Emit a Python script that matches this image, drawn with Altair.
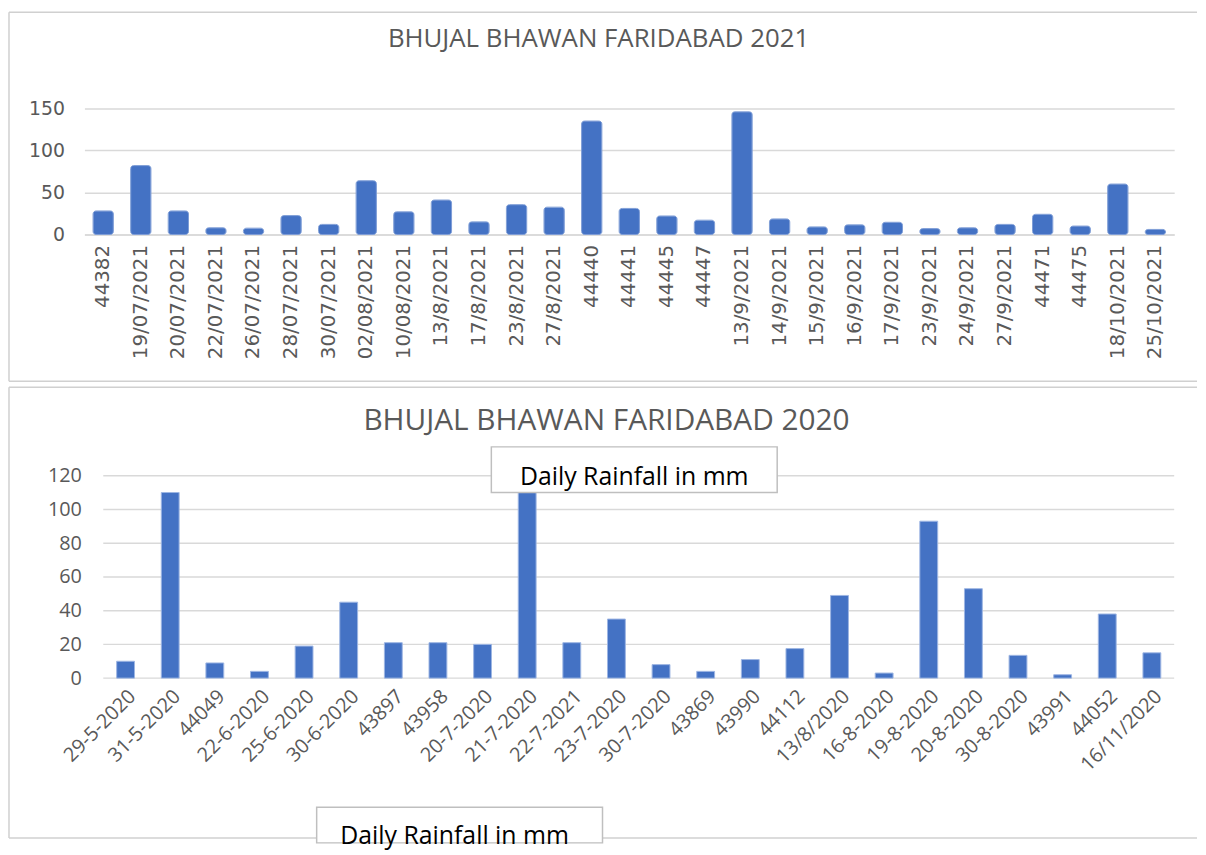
import altair as alt
import pandas as pd

# ---------------- data ----------------
labels_2021 = ["44382", "19/07/2021", "20/07/2021", "22/07/2021", "26/07/2021", "28/07/2021",
               "30/07/2021", "02/08/2021", "10/08/2021", "13/8/2021", "17/8/2021", "23/8/2021",
               "27/8/2021", "44440", "44441", "44445", "44447", "13/9/2021", "14/9/2021",
               "15/9/2021", "16/9/2021", "17/9/2021", "23/9/2021", "24/9/2021", "27/9/2021",
               "44471", "44475", "18/10/2021", "25/10/2021"]
rain_2021 = [28, 82, 28, 8, 7.5, 22.5, 12, 64, 27, 41, 15, 35.5, 32.5, 135, 31, 22, 17, 146,
             18.5, 9, 11.5, 14.5, 7, 8, 12, 24, 10, 60, 6]
ticks_2021 = [0, 50, 100, 150]

labels_2020 = ["29-5-2020", "31-5-2020", "44049", "22-6-2020", "25-6-2020", "30-6-2020",
               "43897", "43958", "20-7-2020", "21-7-2020", "22-7-2021", "23-7-2020",
               "30-7-2020", "43869", "43990", "44112", "13/8/2020", "16-8-2020", "19-8-2020",
               "20-8-2020", "30-8-2020", "43991", "44052", "16/11/2020"]
rain_2020 = [10, 110, 9, 4, 19, 45, 21, 21, 20, 112, 21, 35, 8, 4, 11, 17.5, 49, 3, 93, 53,
             13.5, 2, 38, 15]
ticks_2020 = [0, 20, 40, 60, 80, 100, 120]

title_2021 = "BHUJAL BHAWAN FARIDABAD 2021"
title_2020 = "BHUJAL BHAWAN FARIDABAD 2020"
legend_text = "Daily Rainfall in mm"

BAR = "#4472C4"
GRID = "#d9d9d9"
LABEL = "#595959"
FRAME = "#d0d0d0"

one = pd.DataFrame({"k": [0]})


def rule(x, x2, y, y2):
    return alt.Chart(one).mark_rule(color=FRAME, strokeWidth=1.5).encode(
        x=alt.value(x), x2=alt.value(x2), y=alt.value(y), y2=alt.value(y2))


# common plot origin: page x = 84
W = 1098
LEFT, RIGHT = -76, 1121

# ---------------- 2021 chart ----------------
H1 = 127
T1, B1 = -97, 275

df21 = pd.DataFrame({"date": labels_2021, "rain": rain_2021})
bars21 = alt.Chart(df21).mark_bar(color=BAR, cornerRadius=3, stroke="#7d9cd6", strokeWidth=1).encode(
    x=alt.X("date:N", sort=labels_2021, title=None,
            scale=alt.Scale(paddingInner=0.46, paddingOuter=0.23),
            axis=alt.Axis(labelAngle=270, labelFont="DejaVu Sans", labelFontSize=20,
                          labelColor=LABEL, ticks=False, domain=True, domainColor=GRID,
                          domainWidth=1.5, labelPadding=10, grid=False, labelOverlap=False)),
    y=alt.Y("rain:Q", title=None, scale=alt.Scale(domain=[0, 150], nice=False),
            axis=alt.Axis(values=ticks_2021, labelFont="DejaVu Sans", labelFontSize=19,
                          labelColor=LABEL, domain=False, ticks=False, gridColor=GRID,
                          gridWidth=1.5, labelPadding=20, labelOverlap=False)),
)
t21 = alt.Chart(one).mark_text(font="Open Sans", fontSize=26, color=LABEL,
                               align="center", baseline="alphabetic").encode(
    x=alt.value(518), y=alt.value(-62), text=alt.value(title_2021))

top = alt.layer(
    rule(LEFT, LEFT, T1, B1), rule(LEFT, RIGHT, T1, T1), rule(LEFT, RIGHT, B1, B1),
    bars21, t21,
).properties(width=W, height=H1)

# ---------------- 2020 chart ----------------
H2 = 204
T2, B2 = -89, 365
X0 = 19  # bottom plot area starts 19 px right of the common origin

yaxis20 = alt.Axis(values=ticks_2020, labelFont="Open Sans", labelFontSize=20,
                   labelColor=LABEL, domain=False, ticks=False, grid=False,
                   labelPadding=3, labelOverlap=False)
yscale20 = alt.Scale(domain=[0, 120], nice=False)

df20 = pd.DataFrame({"date": labels_2020, "rain": rain_2020})
grid20 = alt.Chart(pd.DataFrame({"rain": ticks_2020})).mark_rule(color=GRID, strokeWidth=1.5).encode(
    y=alt.Y("rain:Q", title=None, scale=yscale20, axis=yaxis20),
    x=alt.value(X0), x2=alt.value(W))
bars20 = alt.Chart(df20).mark_bar(color=BAR, stroke="#9db5e3", strokeWidth=1).encode(
    x=alt.X("date:N", sort=labels_2020, title=None,
            scale=alt.Scale(paddingInner=0.6, paddingOuter=0.3, range=[X0, W]),
            axis=alt.Axis(labelAngle=315, labelFont="Open Sans", labelFontSize=20,
                          labelColor=LABEL, ticks=False, domain=False,
                          labelPadding=8, grid=False, labelOverlap=False)),
    y=alt.Y("rain:Q", title=None, scale=yscale20, axis=yaxis20),
)
t20 = alt.Chart(one).mark_text(font="Open Sans", fontSize=30, color=LABEL,
                               align="center", baseline="alphabetic").encode(
    x=alt.value(X0 + 507), y=alt.value(-46), text=alt.value(title_2020))


def box(x, x2, y, y2):
    return alt.Chart(one).mark_rect(fill="white", stroke="#bfbfbf", strokeWidth=1.5).encode(
        x=alt.value(x), x2=alt.value(x2), y=alt.value(y), y2=alt.value(y2))


def boxtext(x, y):
    return alt.Chart(one).mark_text(font="Open Sans", fontSize=25, color="#000000",
                                    align="center", baseline="alphabetic").encode(
        x=alt.value(x), y=alt.value(y), text=alt.value(legend_text))


bottom = alt.layer(
    rule(LEFT, LEFT, T2, B2), rule(LEFT, RIGHT, T2, T2), rule(LEFT, RIGHT, B2, B2),
    grid20, bars20, t20,
    box(X0 + 391, X0 + 679, -29, 17), boxtext(X0 + 535, 9),
    box(X0 + 215, X0 + 503, 334, 370), boxtext(X0 + 354, 371),
).properties(width=W, height=H2)

chart = alt.vconcat(top, bottom, spacing=4).properties(
    padding={"left": 0, "top": 0, "right": 0, "bottom": 0},
    background="white",
).configure_view(stroke=None)

chart.save("out.html", embed_options={"renderer": "svg", "actions": False})
